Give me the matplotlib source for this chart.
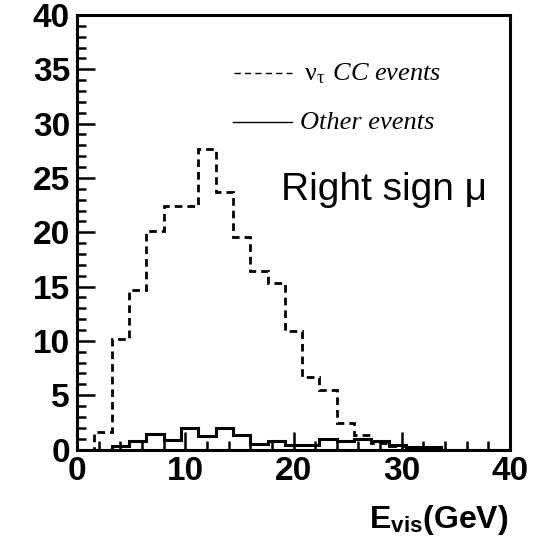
#!/usr/bin/env python3
"""Visible-energy spectrum, right-sign muon sample: nu_tau CC vs other events."""
import matplotlib

matplotlib.use("Agg")
import matplotlib.pyplot as plt  # noqa: E402
import numpy as np  # noqa: E402
from matplotlib.lines import Line2D  # noqa: E402

plt.rcParams["lines.scale_dashes"] = False
plt.rcParams["mathtext.fontset"] = "custom"
plt.rcParams["mathtext.rm"] = "Liberation Serif"
plt.rcParams["mathtext.it"] = "Liberation Serif:italic"
plt.rcParams["mathtext.bf"] = "Liberation Sans:bold"

# 25 bins of 1.6 GeV between 0 and 40 GeV
BIN_EDGES = np.linspace(0.0, 40.0, 26)
NUTAU_CC = [0.0, 1.6, 10.2, 14.7, 20.1, 22.4, 22.4, 27.7, 23.7, 19.6, 16.4, 15.3, 10.9,
            6.7, 5.5, 2.4, 1.3, 0.6, 0.3, 0.0, 0.0, 0.0, 0.0, 0.0, 0.0]
OTHER = [0.0, 0.0, 0.35, 0.75, 1.45, 0.9, 1.95, 1.25, 1.95, 1.35, 0.5, 0.75, 0.45,
         0.45, 1.0, 0.8, 1.0, 0.75, 0.45, 0.25, 0.25, 0.0, 0.0, 0.0, 0.0]

XTICKS = [0, 10, 20, 30, 40]
YTICKS = [0, 5, 10, 15, 20, 25, 30, 35, 40]

SANS = "Liberation Sans"


def main():
    fig = plt.figure(figsize=(5.37, 5.39), dpi=100)
    ax = fig.add_axes([77 / 537, 1 - 449.5 / 539, 433 / 537, 434.5 / 539])

    ax.stairs(NUTAU_CC, BIN_EDGES, color="black", linewidth=2.0,
              linestyle=(0, (5.5, 3.6)))
    ax.stairs(OTHER, BIN_EDGES, color="black", linewidth=2.2)

    ax.set_xlim(0, 40)
    ax.set_ylim(0, 40)
    ax.set_xticks(XTICKS)
    ax.set_yticks(YTICKS)
    ax.set_xticks(np.arange(0, 41, 2), minor=True)
    ax.set_yticks(np.arange(0, 41, 1), minor=True)
    ax.tick_params(which="both", direction="in", top=False, right=False, width=1.8)
    ax.tick_params(which="major", length=13, pad=5)
    ax.tick_params(which="minor", length=6.5)
    for lab in ax.get_xticklabels() + ax.get_yticklabels():
        lab.set_fontfamily(SANS)
        lab.set_fontweight("bold")
        lab.set_fontsize(24)
    for sp in ax.spines.values():
        sp.set_linewidth(2.2)

    # x-axis title, right aligned under the axis end
    fig.text(508 / 537, 1 - 528 / 539, r"E$_{\mathbf{vis}}$(GeV)", ha="right",
             va="baseline", fontsize=23, fontweight="bold", family=SANS)

    # hand-made legend in the ROOT style
    fig.add_artist(Line2D([234 / 537, 292 / 537], [1 - 73 / 539] * 2, color="black",
                          linewidth=1.0, linestyle=(0, (4.5, 3.0))))
    fig.add_artist(Line2D([233 / 537, 292 / 537], [1 - 122 / 539] * 2, color="black",
                          linewidth=1.0))
    fig.text(304 / 537, 1 - 80 / 539, r"$\mathrm{\nu_{\tau}}$ $\mathit{CC\ events}$",
             ha="left", va="baseline", fontsize=19)
    fig.text(300 / 537, 1 - 129 / 539, "Other events", ha="left", va="baseline",
             fontsize=19, family="Liberation Serif", style="italic")

    fig.text(281 / 537, 1 - 200 / 539, "Right sign μ", ha="left", va="baseline",
             fontsize=28, family=SANS)

    fig.savefig("out.png", dpi=100)
    plt.close(fig)


if __name__ == "__main__":
    main()
